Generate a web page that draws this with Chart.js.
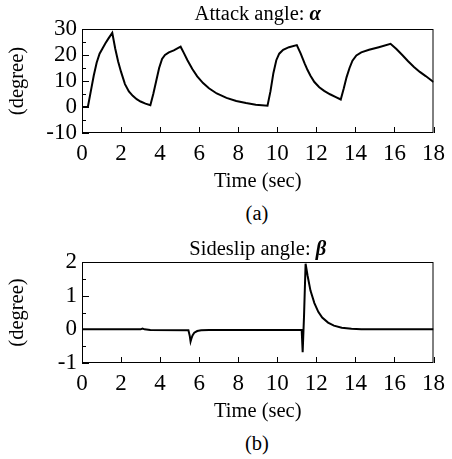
<!DOCTYPE html>
<html>
<head>
<meta charset="utf-8">
<script src="https://cdn.jsdelivr.net/npm/chart.js@4.4.1/dist/chart.umd.min.js"></script>
<style>
  body { margin: 0; background: #fff; }
  #wrap { position: relative; width: 452px; height: 459px; background: #fff; }
  .panel { position: absolute; left: 0; width: 452px; height: 200px; }
  .cap { position: absolute; width: 40px; text-align: center; font: 20.5px "Liberation Serif", serif; color: #000; line-height: 22px; }
</style>
</head>
<body>
<div id="wrap">
  <div class="panel" style="top:0"><canvas id="alphaChart" width="452" height="200"></canvas></div>
  <div class="cap" style="left:237px; top:202px">(a)</div>
  <div class="panel" style="top:230px"><canvas id="betaChart" width="452" height="200"></canvas></div>
  <div class="cap" style="left:237px; top:432px">(b)</div>
</div>
<script>
// Attack angle (deg) over time (sec)
const alphaTime = [0, 0.3, 0.45, 0.6, 0.75, 0.9, 1.05, 1.2, 1.35, 1.55, 1.7, 1.85, 2.0, 2.2, 2.4, 2.6, 2.8, 3.0, 3.25, 3.5,
    3.65, 3.8, 3.95, 4.1, 4.25, 4.45, 4.7, 5.05, 5.2, 5.4, 5.65, 5.9, 6.2, 6.5, 6.9, 7.4, 7.9, 8.4, 8.9, 9.5,
    9.65, 9.8, 9.95, 10.1, 10.3, 10.6, 11.0, 11.2, 11.4, 11.55, 11.7, 11.9, 12.15, 12.4, 12.7, 13.0, 13.25,
    13.4, 13.55, 13.7, 13.85, 14.05, 14.3, 14.7, 15.2, 15.8, 16.1, 16.4, 16.7, 17.0, 17.3, 17.6, 18];
const alphaDeg = [0, 0, 6, 12, 17, 20.5, 22.5, 24.5, 26.3, 28.5, 22.5, 17.5, 13.5, 8.8, 6.0, 4.3, 3.0, 2.1, 1.3, 0.7,
    5, 10, 15, 18.5, 20, 21, 21.8, 23.2, 21, 18, 14.6, 11.8, 9.2, 7.2, 5.2, 3.5, 2.3, 1.5, 0.9, 0.5,
    6, 13, 18, 20.5, 22, 23, 23.8, 20.5, 16.8, 14.2, 12, 9.6, 7.6, 6.2, 4.9, 3.8, 2.9,
    7, 11.5, 15, 17.8, 19.8, 21, 22, 23, 24.3, 22.3, 20, 17.6, 15.4, 13.5, 11.9, 9.6];

// Sideslip angle (deg) over time (sec)
const betaTime = [0, 3.0, 3.1, 3.2, 3.5, 5.45, 5.52, 5.56, 5.6, 5.66, 5.75, 5.9, 6.1, 6.5, 11.25, 11.3, 11.37, 11.45,
    11.55, 11.7, 11.9, 12.1, 12.3, 12.6, 12.9, 13.3, 13.8, 14.3, 18];
const betaDeg = [0, 0, 0.02, 0, -0.02, -0.03, -0.2, -0.36, -0.28, -0.18, -0.1, -0.05, -0.03, -0.02, -0.02, -0.68, 0.4, 1.95,
    1.6, 1.15, 0.78, 0.52, 0.35, 0.2, 0.11, 0.05, 0.02, 0, 0];

const xTicks = [0, 2, 4, 6, 8, 10, 12, 14, 16, 18];

const serif = '"Liberation Serif", "Times New Roman", serif';
const tickSize = 23;
const titleSize = 20.5;

// box around the plot, inward ticks and a title with a bold greek symbol
const framePlugin = {
    id: 'frame',
    afterDraw(chart, args, opts) {
        const { ctx, chartArea: a, scales: { x, y } } = chart;
        ctx.save();
        ctx.strokeStyle = '#000';
        ctx.lineWidth = 1;
        ctx.strokeRect(a.left + 0.5, a.top + 0.5, a.width - 1, a.height - 1);

        ctx.beginPath();
        y.ticks.forEach(t => {
            const py = Math.round(y.getPixelForValue(t.value)) + 0.5;
            const len = Math.abs(t.value % opts.yMajor) < 1e-9 ? 7 : 4;
            ctx.moveTo(a.left, py);
            ctx.lineTo(a.left + len, py);
        });
        x.ticks.forEach(t => {
            const px = Math.round(x.getPixelForValue(t.value)) + 0.5;
            ctx.moveTo(px, a.bottom);
            ctx.lineTo(px, a.bottom - 6);
        });
        ctx.stroke();

        // title
        ctx.fillStyle = '#000';
        ctx.textBaseline = 'middle';
        ctx.font = titleSize + 'px ' + serif;
        const w1 = ctx.measureText(opts.title).width;
        ctx.font = 'bold italic ' + titleSize + 'px ' + serif;
        const w2 = ctx.measureText(opts.symbol).width;
        const x0 = (a.left + a.right) / 2 - (w1 + w2) / 2;
        ctx.font = titleSize + 'px ' + serif;
        ctx.textAlign = 'left';
        ctx.fillText(opts.title, x0, opts.titleY);
        ctx.font = 'bold italic ' + titleSize + 'px ' + serif;
        ctx.fillText(opts.symbol, x0 + w1, opts.titleY);
        ctx.restore();
    }
};

function makeChart(id, times, values, yMin, yMax, yStep, yMajor, title, symbol, titleY, padTop) {
    const ctx = document.getElementById(id).getContext('2d');
    return new Chart(ctx, {
        type: 'line',
        data: {
            datasets: [{
                data: times.map((t, i) => ({ x: t, y: values[i] })),
                borderColor: '#000',
                borderWidth: 2,
                pointRadius: 0,
                tension: 0,
                fill: false
            }]
        },
        options: {
            responsive: false,
            animation: false,
            layout: { padding: { top: padTop, right: 10, left: 0, bottom: 0 } },
            plugins: {
                legend: { display: false },
                tooltip: { enabled: false },
                frame: { yMajor: yMajor, title: title, symbol: symbol, titleY: titleY }
            },
            scales: {
                x: {
                    type: 'linear',
                    min: 0,
                    max: 18,
                    afterBuildTicks: s => { s.ticks = xTicks.map(v => ({ value: v })); },
                    ticks: { color: '#000', font: { family: serif, size: tickSize }, padding: 7, maxRotation: 0, autoSkip: false },
                    grid: { display: false, drawTicks: false },
                    border: { display: false },
                    title: { display: true, text: 'Time (sec)', color: '#000', font: { family: serif, size: titleSize }, padding: { top: 0, bottom: 6 } },
                    afterFit: s => { s.height = 67; }
                },
                y: {
                    min: yMin,
                    max: yMax,
                    ticks: {
                        stepSize: yStep,
                        autoSkip: false,
                        color: '#000',
                        font: { family: serif, size: tickSize },
                        padding: 5,
                        callback: v => Math.abs(v % yMajor) < 1e-9 ? v : ''
                    },
                    grid: { display: false, drawTicks: false },
                    border: { display: false },
                    title: { display: true, text: '(degree)', color: '#000', font: { family: serif, size: titleSize }, padding: { top: 5, bottom: 0 } },
                    afterFit: s => { s.width = 82; }
                }
            }
        },
        plugins: [framePlugin]
    });
}

makeChart('alphaChart', alphaTime, alphaDeg, -10, 30, 5, 10, 'Attack angle: ', 'α', 15, 29);
makeChart('betaChart', betaTime, betaDeg, -1, 2, 0.5, 1, 'Sideslip angle: ', 'β', 20, 32);
</script>
</body>
</html>
